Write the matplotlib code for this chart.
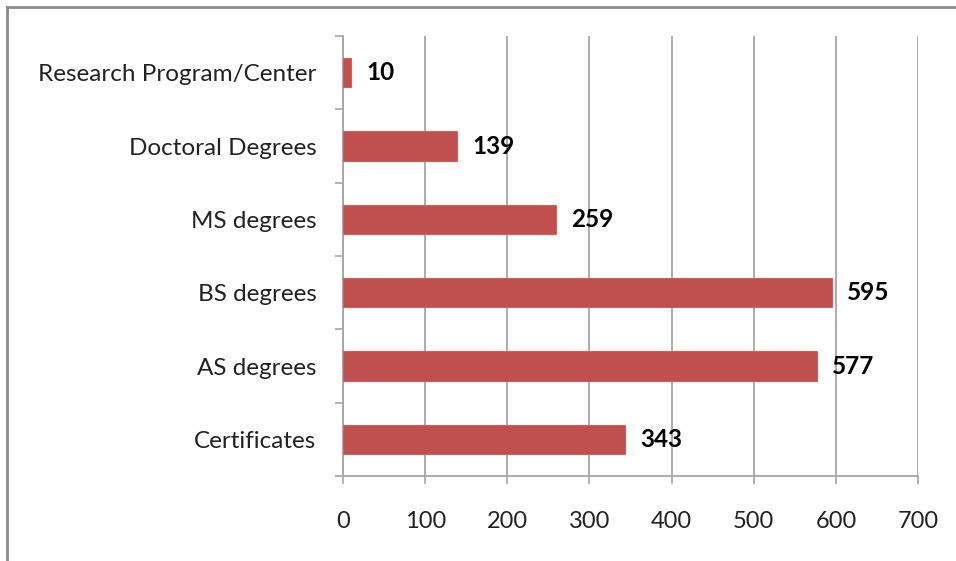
import matplotlib.pyplot as plt
from matplotlib.lines import Line2D
import numpy as np

categories = ['Certificates', 'AS degrees', 'BS degrees', 'MS degrees',
              'Doctoral Degrees', 'Research Program/Center']
values = [343, 577, 595, 259, 139, 10]
x_ticks = [0, 100, 200, 300, 400, 500, 600, 700]

plt.rcParams['font.family'] = ['Lato', 'DejaVu Sans']

fig = plt.figure(figsize=(9.56, 5.61), dpi=100)
ax = fig.add_axes([0.3588, 0.1515, 0.6015, 0.7843])

y = np.arange(len(categories))
ax.barh(y, values, height=0.4, color='#c0504d', edgecolor='#d0605d', linewidth=0.8, zorder=3)

for yi, v in zip(y, values):
    ax.annotate(str(v), xy=(v, yi), xytext=(11, 0), textcoords='offset points',
                va='center', ha='left', fontsize=17.5, fontweight='bold', color='black')

ax.set_xlim(0, 700)
ax.set_ylim(-0.5, len(categories) - 0.5)
ax.set_xticks(x_ticks)
ax.set_yticks(y)
ax.set_yticklabels(categories)
ax.set_yticks(np.arange(-0.5, len(categories), 1), minor=True)

ax.grid(axis='x', color='#a6a6a6', linewidth=1.3, zorder=0)
ax.tick_params(axis='y', which='major', length=0, pad=19, labelsize=17.5, labelcolor='#222222')
ax.tick_params(axis='y', which='minor', length=6, width=1.2, color='#a6a6a6')
ax.tick_params(axis='x', which='major', length=6, width=1.2, color='#a6a6a6',
               pad=19, labelsize=17, labelcolor='#222222')

for s in ['top', 'right']:
    ax.spines[s].set_visible(False)
for s in ['left', 'bottom']:
    ax.spines[s].set_color('#a6a6a6')
    ax.spines[s].set_linewidth(1.3)

# outer frame (only left and top visible)
fig.add_artist(Line2D([0.0075, 0.0075], [0, 0.988], transform=fig.transFigure,
                      color='#8c8c8c', linewidth=2))
fig.add_artist(Line2D([0.0075, 1], [0.988, 0.988], transform=fig.transFigure,
                      color='#8c8c8c', linewidth=2))

fig.savefig('out.png', dpi=100)
